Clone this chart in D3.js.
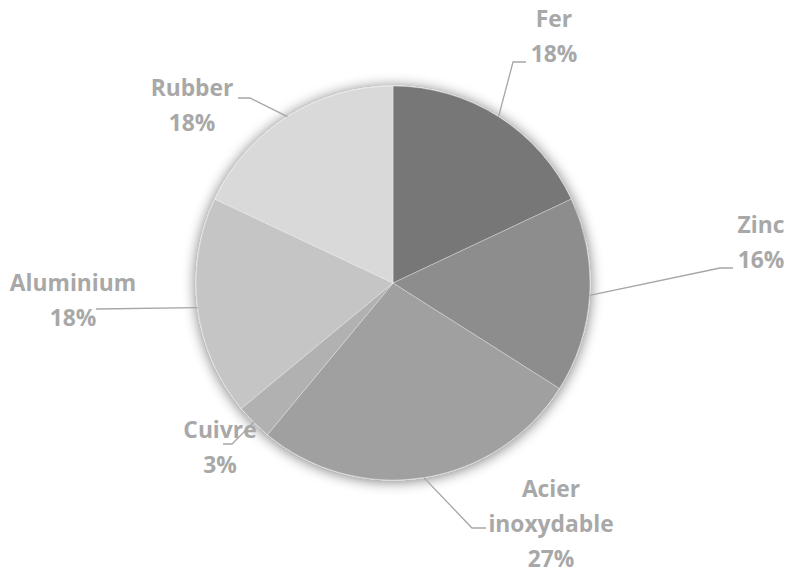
<!DOCTYPE html>
<html>
<head>
<meta charset="utf-8">
<script src="https://cdn.jsdelivr.net/npm/d3@7"></script>
<style>
  html, body { margin: 0; padding: 0; background: #ffffff; }
  svg { display: block; }
  text { font-family: "Open Sans", "Noto Sans", sans-serif; font-weight: 700; }
</style>
</head>
<body>
<svg id="chart" width="788" height="574"></svg>
<script>
// ---- data ----
const categories = ["Fer", "Zinc", "Acier inoxydable", "Cuivre", "Aluminium", "Rubber"];
const values = [18, 16, 27, 3, 18, 18];
const labelLines = [["Fer"], ["Zinc"], ["Acier", "inoxydable"], ["Cuivre"], ["Aluminium"], ["Rubber"]];

// ---- styling / layout (not data) ----
const colors = ["#777777", "#8d8d8d", "#a0a0a0", "#b1b1b1", "#c5c5c5", "#d9d9d9"];
// label block: centre x, baseline of first line; elbow of leader and its end
const labelLayout = [
  { cx: 554, y: 27,  elbow: [513, 62],  end: [526, 62] },
  { cx: 761, y: 233, elbow: [720, 268], end: [733, 268] },
  { cx: 551, y: 497, elbow: [472, 528], end: [486, 528] },
  { cx: 220, y: 438, elbow: [232, 444], end: [223, 444] },
  { cx: 73,  y: 291, elbow: [96, 309],  end: [96, 309] },
  { cx: 192, y: 96,  elbow: [250, 98],  end: [238, 98] }
];

const W = 788, H = 574;
const cx = 393, cy = 283, R = 197;
const fontSize = 22.8, lineH = 35;

const svg = d3.select("#chart");
const defs = svg.append("defs");
const f = defs.append("filter").attr("id", "shadow")
  .attr("x", "-20%").attr("y", "-20%").attr("width", "140%").attr("height", "140%");
f.append("feGaussianBlur").attr("in", "SourceAlpha").attr("stdDeviation", 7).attr("result", "blur");
f.append("feOffset").attr("in", "blur").attr("dx", 0).attr("dy", 1).attr("result", "off");
f.append("feComponentTransfer").attr("in", "off").attr("result", "sh")
  .append("feFuncA").attr("type", "linear").attr("slope", 0.55);
const m = f.append("feMerge");
m.append("feMergeNode").attr("in", "sh");
m.append("feMergeNode").attr("in", "SourceGraphic");

const data = categories.map((c, i) => ({ name: c, value: values[i], i }));
const pie = d3.pie().value(d => d.value).sort(null);
const arcs = pie(data);
const arc = d3.arc().innerRadius(0).outerRadius(R);

const g = svg.append("g").attr("transform", `translate(${cx},${cy})`);
g.append("g").attr("filter", "url(#shadow)")
  .selectAll("path").data(arcs).join("path")
  .attr("d", arc)
  .attr("fill", d => colors[d.data.i])
  .attr("stroke", "rgba(255,255,255,0.35)")
  .attr("stroke-width", 1);

// leader lines
const total = d3.sum(values);
const pct = v => Math.round(v / total * 100) + "%";

arcs.forEach(a => {
  const L = labelLayout[a.data.i];
  const mid = (a.startAngle + a.endAngle) / 2;
  const sx = cx + R * Math.sin(mid), sy = cy - R * Math.cos(mid);
  svg.append("polyline")
    .attr("points", [[sx, sy], L.elbow, L.end].map(p => p.join(",")).join(" "))
    .attr("fill", "none")
    .attr("stroke", "#a6a6a6")
    .attr("stroke-width", 1.3);
});

// labels
arcs.forEach(a => {
  const L = labelLayout[a.data.i];
  const lines = labelLines[a.data.i].concat([pct(a.data.value)]);
  const t = svg.append("text")
    .attr("text-anchor", "middle")
    .attr("font-size", fontSize)
    .attr("fill", "#a8a8a8");
  lines.forEach((s, k) => {
    t.append("tspan").attr("x", L.cx).attr("y", L.y + k * lineH).text(s);
  });
});
</script>
</body>
</html>
